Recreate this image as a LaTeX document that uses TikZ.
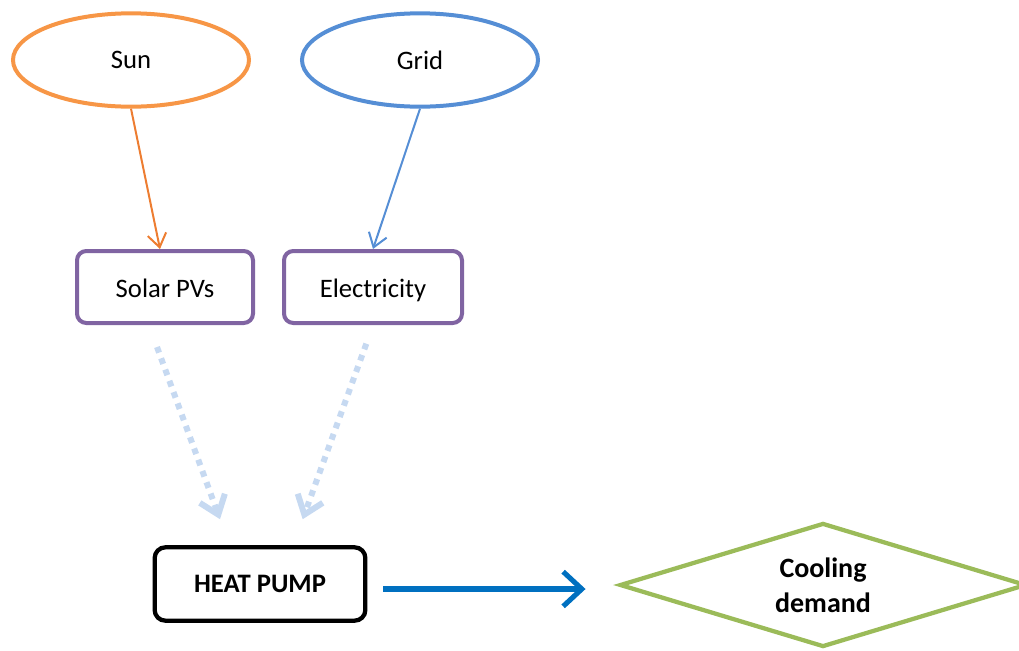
\documentclass[tikz,border=0pt]{standalone}
\usepackage{fontspec}
\setmainfont{Carlito}
\usetikzlibrary{arrows.meta, shapes.geometric}

\definecolor{sunorange}{HTML}{F79646}
\definecolor{sunline}{HTML}{ED7D31}
\definecolor{gridblue}{HTML}{558ED5}
\definecolor{boxpurple}{HTML}{8064A2}
\definecolor{dotblue}{HTML}{C6D9F1}
\definecolor{pumpblue}{HTML}{0070C0}
\definecolor{demandgreen}{HTML}{9BBB59}

\begin{document}
\begin{tikzpicture}[
    x=0.75pt, y=-0.75pt,
    src/.style={ellipse, draw, line width=3pt, minimum width=177pt, minimum height=70pt,
                inner sep=0pt},
    box/.style={draw=boxpurple, rounded corners=7pt, line width=3pt, minimum height=54pt,
                inner sep=0pt, text height=17pt, text depth=2pt},
    pump/.style={draw=black, rounded corners=8pt, line width=3.2pt, minimum width=158pt,
                 minimum height=55pt, font=\fontsize{20}{24}\selectfont\bfseries},
    demand/.style={diamond, draw=demandgreen, line width=3.2pt, aspect=3.27, minimum width=305pt,
                   minimum height=93pt, inner sep=0pt, align=center,
                   font=\fontsize{21}{26}\selectfont\bfseries},
    thinarr/.style={-{Straight Barb[length=10pt, width=14pt]}, line width=1.5pt},
    dotarr/.style={-{Straight Barb[length=13pt, width=20pt]}, line width=4.5pt, dotblue,
                   dash pattern=on 4.5pt off 4.5pt},
    bigarr/.style={-{Straight Barb[length=14pt, width=26pt]}, line width=3.8pt, pumpblue},
    font=\fontsize{20}{24}\selectfont
]
\useasboundingbox (0,0) rectangle (1019,650);

% ---- sources ----
\node[src, draw=sunorange] (sun)  at (131,60) {Sun};
\node[src, draw=gridblue]  (grid) at (420,60) {Grid};

% ---- supply ----
\node[box, minimum width=132pt]   (spv)  at (165,287) {Solar PVs};
\node[box, minimum width=133.5pt] (elec) at (373,287) {Electricity};

% ---- heat pump and demand ----
\node[pump]   (hp)   at (260,584) {HEAT PUMP};
\node[demand] (cool) at (823,585) {Cooling\\demand};

% ---- connectors ----
\draw[thinarr, sunline]  (sun.south)  -- ([xshift=-3.75pt]spv.north);
\draw[thinarr, gridblue] (grid.south) -- (elec.north);

\draw[dotarr] ([xshift=-6pt,yshift=-16.5pt]spv.south)  -- ([xshift=-30pt,yshift=19.5pt]hp.north);
\draw[dotarr] ([xshift=-5pt,yshift=-14pt]elec.south)   -- ([xshift=32pt,yshift=19.5pt]hp.north);

\draw[bigarr] ([xshift=12pt,yshift=-3.75pt]hp.east) -- ([xshift=-24pt,yshift=-3pt]cool.west);

\end{tikzpicture}
\end{document}
